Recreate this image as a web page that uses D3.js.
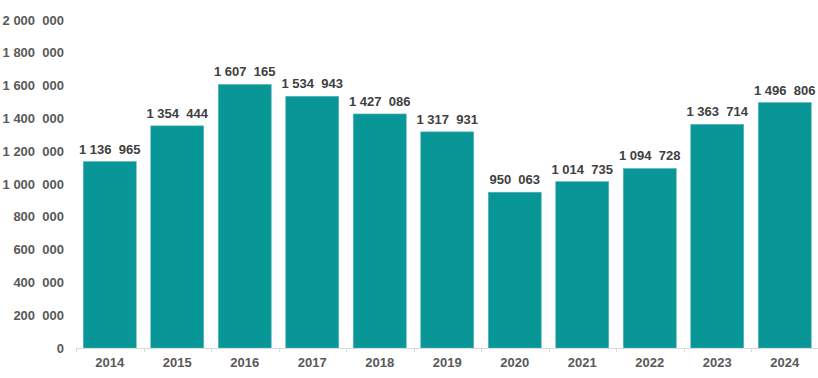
<!DOCTYPE html>
<html>
<head>
<meta charset="utf-8">
<script src="https://cdn.jsdelivr.net/npm/d3@7"></script>
<style>
  body { margin: 0; background: #fff; }
  text { font-family: "Liberation Sans", Arial, sans-serif; font-weight: bold; white-space: pre; }
</style>
</head>
<body>
<script>
// data
var years = ["2014","2015","2016","2017","2018","2019","2020","2021","2022","2023","2024"];
var values = [1136965, 1354444, 1607165, 1534943, 1427086, 1317931, 950063, 1014735, 1094728, 1363714, 1496806];
var yTicks = [0, 200000, 400000, 600000, 800000, 1000000, 1200000, 1400000, 1600000, 1800000, 2000000];

var w = 818, h = 378;
var x0 = 76, x1 = 818.5, yBase = 348, yTop = 20;

// "1 136  965" style: wider gap before the last group
function fmt(v) {
  var s = String(Math.round(v)), groups = [];
  while (s.length > 3) { groups.unshift(s.slice(-3)); s = s.slice(0, -3); }
  groups.unshift(s);
  if (groups.length == 1) return groups[0];
  var last = groups.pop();
  return groups.join(" ") + "  " + last;
}

var svg = d3.select("body").append("svg")
  .attr("width", w)
  .attr("height", h);

var x = d3.scaleBand()
  .domain(years)
  .range([x0, x1])
  .paddingInner(0.215)
  .paddingOuter(0.1075);

var y = d3.scaleLinear()
  .domain([0, 2000000])
  .range([yBase, yTop]);

//Y axis (labels only)
var yAxis = svg.append("g")
  .attr("transform", "translate(64,0)")
  .call(d3.axisLeft(y).tickValues(yTicks).tickFormat(fmt).tickSize(0).tickPadding(0));
yAxis.select(".domain").remove();
yAxis.selectAll("text")
  .attr("font-size", 13)
  .attr("font-family", null)
  .attr("fill", "#595959");

//Bars
svg.selectAll("rect.bar")
  .data(values)
  .enter()
  .append("rect")
    .attr("class", "bar")
    .attr("x", (d, i) => x(years[i]))
    .attr("width", x.bandwidth())
    .attr("y", (d) => y(d))
    .attr("height", (d) => yBase - y(d))
    .attr("fill", "#099697")
    .attr("stroke", "#5cb8b8")
    .attr("stroke-width", 0.6);

//Value labels
svg.selectAll("text.val")
  .data(values)
  .enter()
  .append("text")
    .attr("class", "val")
    .attr("x", (d, i) => x(years[i]) + x.bandwidth() / 2)
    .attr("y", (d) => y(d) - 8)
    .attr("text-anchor", "middle")
    .attr("font-size", 13)
    .attr("fill", "#404040")
    .text(fmt);

//X axis
var step = x.step();
var xAxis = svg.append("g").attr("class", "xaxis");
xAxis.append("line")
  .attr("x1", x0).attr("x2", x1)
  .attr("y1", yBase + 0.5).attr("y2", yBase + 0.5)
  .attr("stroke", "#d9d9d9");
xAxis.selectAll("line.tick")
  .data(d3.range(years.length + 1))
  .enter()
  .append("line")
    .attr("class", "tick")
    .attr("x1", (i) => Math.round(x0 + i * step) + 0.5)
    .attr("x2", (i) => Math.round(x0 + i * step) + 0.5)
    .attr("y1", yBase)
    .attr("y2", yBase + 4)
    .attr("stroke", "#d9d9d9");
xAxis.selectAll("text")
  .data(years)
  .enter()
  .append("text")
    .attr("x", (d) => x(d) + x.bandwidth() / 2)
    .attr("y", 367)
    .attr("text-anchor", "middle")
    .attr("font-size", 13)
    .attr("fill", "#595959")
    .text((d) => d);
</script>
</body>
</html>
